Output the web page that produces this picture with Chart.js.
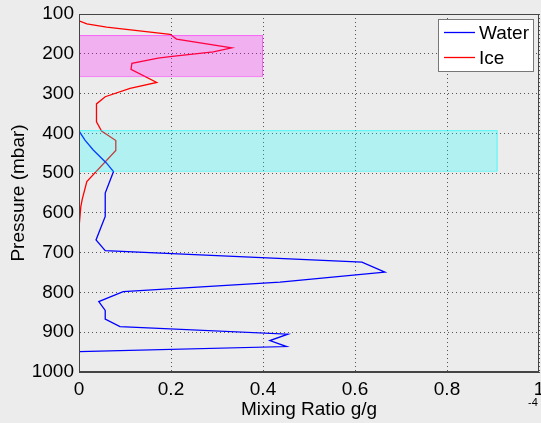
<!DOCTYPE html>
<html>
<head>
<meta charset="utf-8">
<script src="https://cdn.jsdelivr.net/npm/chart.js@4/dist/chart.umd.min.js"></script>
<style>
  body { margin: 0; background: #ececec; }
  #graph1 { display: block; }
</style>
</head>
<body>
<canvas id="graph1" width="541" height="423"></canvas>
<script>
// mixing ratio (x 1e-4 g/g) against pressure (mbar)
var waterRatio    = [0, 0.013, 0.031, 0.06, 0.075, 0.057, 0.057, 0.037, 0.057, 0.615, 0.665, 0.437, 0.096, 0.043, 0.057, 0.057, 0.089, 0.454, 0.415, 0.451, 0];
var waterPressure = [394, 417, 442, 475, 496, 550, 609, 668, 695, 724, 749, 774, 798, 823, 845, 867, 886, 905, 921, 936, 949];
var iceRatio    = [0, 0.017, 0.06, 0.198, 0.212, 0.332, 0.292, 0.198, 0.172, 0.115, 0.113, 0.169, 0.111, 0.057, 0.038, 0.038, 0.049, 0.08, 0.08, 0.017, 0.007, 0.004, 0];
var icePressure = [117, 125, 133, 151, 163, 185, 195, 207, 211, 224, 239, 272, 287, 308, 326, 371, 394, 418, 443, 521, 566, 584, 638];

// shaded layers: [x0, x1, p0, p1]
var iceLayer   = [0, 0.40, 153, 256];
var waterLayer = [0, 0.91, 392, 494];

var yTicks = [100, 200, 300, 400, 500, 600, 700, 800, 900, 1000];
var xTicks = [0, 0.2, 0.4, 0.6, 0.8, 1];

function toPoints(xs, ys) {
  return xs.map(function(v, i) { return {x: v, y: ys[i]}; });
}

var layerPlugin = {
  id: 'layers',
  afterDatasetsDraw: function(chart) {
    var ctx = chart.ctx, sx = chart.scales.x, sy = chart.scales.y;
    var boxes = [
      [iceLayer, 'rgba(255,0,255,0.25)', 'rgba(255,0,255,0.45)'],
      [waterLayer, 'rgba(0,255,255,0.25)', 'rgba(0,255,255,0.55)']
    ];
    ctx.save();
    boxes.forEach(function(b) {
      var r = b[0];
      var x0 = sx.getPixelForValue(r[0]), x1 = sx.getPixelForValue(r[1]);
      var y0 = sy.getPixelForValue(r[2]), y1 = sy.getPixelForValue(r[3]);
      ctx.fillStyle = b[1];
      ctx.fillRect(x0, y0, x1 - x0, y1 - y0);
      ctx.strokeStyle = b[2];
      ctx.lineWidth = 1;
      ctx.strokeRect(x0 + 0.5, y0 + 0.5, x1 - x0 - 1, y1 - y0);
    });
    ctx.restore();
  },
  afterDraw: function(chart) {
    var ctx = chart.ctx, a = chart.chartArea;
    ctx.save();
    ctx.strokeStyle = '#444';
    ctx.lineWidth = 1;
    ctx.strokeRect(a.left + 0.5, a.top + 0.5, a.right - a.left - 1, a.bottom - a.top - 1);
    // legend
    var lx = 438, ly = 19;
    ctx.fillStyle = '#fff';
    ctx.fillRect(lx, ly, 95, 52);
    ctx.strokeStyle = '#777';
    ctx.strokeRect(lx + 0.5, ly + 0.5, 95, 52);
    ctx.font = '19px "Liberation Sans", Arial, sans-serif';
    ctx.textBaseline = 'middle';
    chart.data.datasets.forEach(function(ds, i) {
      var y = ly + 13.5 + i * 25;
      ctx.strokeStyle = ds.borderColor;
      ctx.lineWidth = 1.3;
      ctx.beginPath();
      ctx.moveTo(lx + 6, y);
      ctx.lineTo(lx + 37, y);
      ctx.stroke();
      ctx.fillStyle = '#000';
      ctx.fillText(ds.label, lx + 41, y + 1);
    });
    // exponent
    ctx.font = '11px "Liberation Sans", Arial, sans-serif';
    ctx.textAlign = 'center';
    ctx.fillText('-4', 533, 403);
    ctx.restore();
  }
};

document.addEventListener('DOMContentLoaded', function() {
  var ctx = document.querySelector('#graph1').getContext('2d');
  var font = {family: '"Liberation Sans", Arial, sans-serif', size: 19};
  var chart = new Chart(ctx, {
    type: 'scatter',
    data: {
      datasets: [{
        label: 'Water',
        data: toPoints(waterRatio, waterPressure),
        borderColor: '#0000ff',
        backgroundColor: '#0000ff',
        showLine: true,
        borderWidth: 1.3,
        pointRadius: 0
      }, {
        label: 'Ice',
        data: toPoints(iceRatio, icePressure),
        borderColor: '#ff0000',
        backgroundColor: '#ff0000',
        showLine: true,
        borderWidth: 1.3,
        pointRadius: 0
      }]
    },
    options: {
      responsive: false,
      animation: false,
      layout: {padding: {top: 14, right: 2, left: 0, bottom: 0}},
      plugins: {legend: {display: false}, tooltip: {enabled: false}},
      scales: {
        x: {
          type: 'linear', min: 0, max: 1,
          afterBuildTicks: function(s) { s.ticks = xTicks.map(function(v) { return {value: v}; }); },
          afterFit: function(s) { s.height = 51; s.paddingLeft = 0; s.paddingRight = 0; },
          ticks: {color: '#000', font: font, padding: 6, maxRotation: 0,
            callback: function(v) { return String(v); }},
          grid: {color: '#555', drawTicks: false},
          border: {display: true, color: '#444', dash: [1, 3]},
          title: {display: true, text: 'Mixing Ratio g/g', color: '#000', font: font, padding: {top: 0, bottom: 2}}
        },
        y: {
          type: 'linear', min: 100, max: 1000, reverse: true,
          afterBuildTicks: function(s) { s.ticks = yTicks.map(function(v) { return {value: v}; }); },
          afterFit: function(s) { s.width = 79; s.paddingTop = 0; s.paddingBottom = 0; },
          ticks: {color: '#000', font: font, padding: 5,
            callback: function(v) { return String(v); }},
          grid: {color: '#555', drawTicks: false},
          border: {display: true, color: '#444', dash: [1, 3]},
          title: {display: true, text: 'Pressure (mbar)', color: '#000', font: font, padding: {top: 7, bottom: 0}}
        }
      }
    },
    plugins: [layerPlugin]
  });
});
</script>
</body>
</html>
